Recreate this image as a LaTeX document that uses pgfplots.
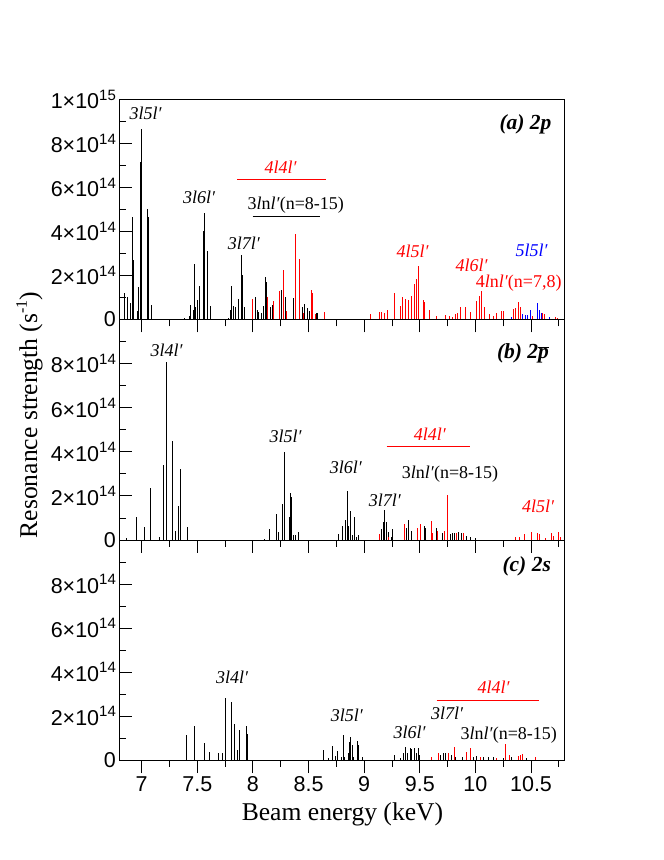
\documentclass[border=0pt]{standalone}
\usepackage{pgfplots}
\pgfplotsset{compat=1.18}
\usepackage{fontspec}
\setmainfont{Liberation Serif}
\setsansfont{Liberation Sans}
\newcommand{\tl}[1]{\mbox{\fontsize{21.5}{21.5}\selectfont\sffamily #1}}
\newcommand{\sci}[2]{#1×10\raisebox{8.5pt}{\fontsize{15}{15}\selectfont #2}}
\pgfplotsset{panel/.style={
  width=445pt, height=220pt, scale only axis,
  xmin=6.8, xmax=10.8, ymin=0, ymax=10,
  xtick={7,7.5,...,10.5}, minor xtick={7.25,7.75,...,10.75},
  minor ytick={1,3,5,7,9},
  xtick pos=left, ytick pos=left,
  xtick align=outside, ytick align=inside,
  major tick length=13pt, minor tick length=7pt,
  axis line style={line width=0.8pt},
  every tick/.style={black, line width=0.8pt},
  scaled ticks=false, clip=true,
  anchor=south west,
},
nolabx/.style={xticklabels={,,,,,,,,}, xticklabel style={text opacity=0}},
bars/.style={ycomb, mark=none, line width=0.7pt, #1},
}
\tikzset{lab/.style={anchor=base, inner sep=0pt, font=\fontsize{18}{18}\selectfont},
  tit/.style={anchor=base, inner sep=0pt, font=\fontsize{21.5}{21.5}\selectfont\bfseries\itshape}}
\begin{document}
\begin{tikzpicture}
\path[use as bounding box] (0pt,0pt) rectangle (664pt,860pt);
% ---------------- panel (a)
\begin{axis}[panel, nolabx, at={(119.4pt,540.5pt)},
  ytick={0,2,4,6,8,10},
  yticklabels={\tl{0},\tl{\sci{2}{14}},\tl{\sci{4}{14}},\tl{\sci{6}{14}},\tl{\sci{8}{14}},\tl{\sci{1}{15}}}]
\addplot[bars=black] table {
6.841 1.21
6.874 1.00
6.900 0.73
6.916 4.64
6.928 2.70
6.964 0.40
6.973 1.48
6.985 7.16
7.000 8.68
7.050 5.00
7.060 4.64
7.090 0.64
7.380 0.08
7.425 0.15
7.434 0.68
7.464 0.45
7.473 2.51
7.485 0.55
7.500 0.90
7.518 1.51
7.554 4.03
7.563 4.85
7.590 3.10
7.614 0.60
7.780 0.05
7.794 0.45
7.810 1.51
7.820 0.60
7.845 0.55
7.869 0.94
7.893 2.95
7.908 2.01
7.925 0.55
8.025 1.00
8.040 0.43
8.052 0.36
8.073 0.28
8.097 0.60
8.112 1.94
8.124 1.71
8.154 0.57
8.178 0.65
8.259 1.33
8.289 1.03
8.363 0.96
8.444 0.57
8.459 0.70
8.489 0.53
8.505 0.40
8.574 0.30
8.583 0.30
};
\addplot[bars=red] table {
7.998 0.91
8.133 1.04
8.184 0.82
8.237 1.30
8.273 2.24
8.300 0.40
8.385 3.88
8.415 2.73
8.450 0.30
8.523 1.33
8.535 1.20
8.560 0.25
8.642 0.33
9.059 0.23
9.137 0.32
9.158 0.35
9.179 0.30
9.212 0.43
9.272 1.21
9.326 0.60
9.344 1.03
9.371 0.95
9.398 0.90
9.425 1.08
9.455 1.60
9.470 1.83
9.488 2.42
9.536 0.90
9.545 0.80
9.587 0.45
9.653 0.18
9.734 0.20
9.764 0.14
9.794 0.12
9.818 0.27
9.838 0.30
9.868 0.59
9.907 0.55
9.952 0.36
10.012 0.86
10.033 1.05
10.051 1.30
10.081 0.55
10.123 0.27
10.162 0.18
10.192 0.30
10.231 0.39
10.252 0.39
10.342 0.48
10.363 0.53
10.387 0.80
10.408 0.58
10.510 0.18
10.606 0.30
10.618 0.27
10.717 0.10
10.740 0.05
};
\addplot[bars=blue] table {
10.327 0.10
10.423 0.27
10.447 0.20
10.471 0.20
10.492 0.45
10.555 0.77
10.576 0.45
10.590 0.30
10.666 0.10
};
\end{axis}
% ---------------- panel (b)
\begin{axis}[panel, nolabx, at={(119.4pt,320pt)}, height=220.5pt,
  ytick={0,2,4,6,8},
  yticklabels={\tl{0},\tl{\sci{2}{14}},\tl{\sci{4}{14}},\tl{\sci{6}{14}},\tl{\sci{8}{14}}}]
\addplot[bars=black] table {
6.865 0.08
6.955 1.03
7.027 0.58
7.081 2.35
7.156 0.15
7.194 3.38
7.225 8.08
7.272 4.50
7.300 0.42
7.329 1.55
7.344 3.21
7.410 0.58
8.100 0.05
8.147 0.48
8.214 1.18
8.229 0.38
8.264 1.64
8.282 3.98
8.327 1.03
8.336 2.12
8.349 1.94
8.363 0.23
8.378 0.23
8.412 0.36
8.772 0.27
8.808 0.64
8.835 0.91
8.846 2.24
8.861 0.64
8.880 1.33
8.894 0.23
8.912 1.03
8.927 0.15
8.948 0.23
9.158 0.52
9.172 0.80
9.182 1.36
9.197 0.82
9.218 0.38
9.242 0.15
9.257 0.52
9.377 0.55
9.393 0.91
9.401 0.52
9.428 0.42
9.540 0.64
9.554 0.55
9.647 0.55
9.707 0.30
9.779 0.27
9.790 0.30
9.809 0.30
9.847 0.38
9.871 0.30
9.923 0.18
9.953 0.15
10.004 0.10
};
\addplot[bars=red] table {
9.137 0.27
9.218 0.15
9.360 0.73
9.474 0.55
9.504 0.73
9.600 0.88
9.611 0.30
9.659 0.42
9.721 0.42
9.747 2.02
9.826 0.30
9.892 0.30
10.357 0.12
10.396 0.15
10.438 0.27
10.507 0.38
10.557 0.33
10.576 0.27
10.627 0.08
10.687 0.33
10.702 0.18
10.747 0.38
10.762 0.15
};
\end{axis}
% ---------------- panel (c)
\begin{axis}[panel, at={(119.4pt,100pt)},
  ytick={0,2,4,6,8},
  yticklabels={\tl{0},\tl{\sci{2}{14}},\tl{\sci{4}{14}},\tl{\sci{6}{14}},\tl{\sci{8}{14}}},
  xticklabels={\tl{7},\tl{7.5},\tl{8},\tl{8.5},\tl{9},\tl{9.5},\tl{10},\tl{10.5}}]
\addplot[bars=black] table {
7.398 1.14
7.476 1.55
7.560 0.79
7.608 0.38
7.689 0.33
7.725 0.30
7.755 2.80
7.806 2.62
7.833 1.64
7.857 0.45
7.878 1.36
7.944 1.55
7.953 1.18
8.633 0.45
8.682 0.08
8.717 0.64
8.741 0.20
8.759 0.39
8.792 0.14
8.813 1.14
8.822 0.15
8.861 0.30
8.867 0.83
8.876 1.03
8.894 0.68
8.903 0.15
8.939 0.86
8.948 0.68
8.981 0.12
9.272 0.23
9.323 0.08
9.353 0.33
9.374 0.58
9.389 0.30
9.413 0.53
9.428 0.48
9.449 0.53
9.467 0.30
9.485 0.53
9.497 0.23
9.683 0.23
9.713 0.33
9.728 0.30
9.782 0.23
9.818 0.15
9.887 0.15
9.983 0.15
10.013 0.18
10.072 0.15
10.117 0.12
10.162 0.15
10.252 0.08
10.327 0.15
10.462 0.08
};
\addplot[bars=red] table {
9.600 0.12
9.668 0.30
9.758 0.33
9.809 0.61
9.923 0.38
9.953 0.53
10.042 0.12
10.192 0.08
10.270 0.71
10.306 0.23
10.387 0.18
10.408 0.23
10.426 0.27
10.537 0.12
};
\end{axis}
% ---------------- axis titles
\node[rotate=90, anchor=base, inner sep=0pt, font=\fontsize{25.6}{25.6}\selectfont] at (37pt,445pt)
  {Resonance strength (s\raisebox{10pt}{\fontsize{16}{16}\selectfont -1})};
\node[anchor=base, inner sep=0pt, font=\fontsize{25.6}{25.6}\selectfont] at (342.5pt,39.3pt) {Beam energy (keV)};
% ---------------- annotations (a)
\node[lab] at (145.7pt,740.7pt) {\textit{3l5l′}};
\node[lab] at (199.3pt,656pt) {\textit{3l6l′}};
\node[lab, red] at (280.7pt,686pt) {\textit{4l4l′}};
\draw[red, line width=0.8pt] (237.3pt,680.3pt) -- (325.7pt,680.3pt);
\node[lab] at (295.8pt,650pt) {3\textit{l}n\textit{l′}(n=8-15)};
\draw[black, line width=0.8pt] (252.7pt,643.3pt) -- (320pt,643.3pt);
\node[lab] at (244pt,610.7pt) {\textit{3l7l′}};
\node[lab, red] at (412.7pt,602.7pt) {\textit{4l5l′}};
\node[lab, red] at (471.7pt,588.3pt) {\textit{4l6l′}};
\node[lab, red] at (518.7pt,572.7pt) {4\textit{l}n\textit{l′}(n=7,8)};
\node[lab, blue] at (531.7pt,603.3pt) {\textit{5l5l′}};
\node[tit] at (525.5pt,730.7pt) {(a) 2p};
% ---------------- annotations (b)
\node[lab] at (166.7pt,503.3pt) {\textit{3l4l′}};
\node[lab] at (285.7pt,417.7pt) {\textit{3l5l′}};
\node[lab] at (346pt,386.7pt) {\textit{3l6l′}};
\node[lab, red] at (430pt,419.3pt) {\textit{4l4l′}};
\draw[red, line width=0.8pt] (386.7pt,414pt) -- (470pt,414pt);
\node[lab] at (450pt,381.7pt) {3\textit{l}n\textit{l′}(n=8-15)};
\node[lab] at (385pt,353.3pt) {\textit{3l7l′}};
\node[lab, red] at (538.3pt,347.7pt) {\textit{4l5l′}};
\node[tit] at (523pt,501.7pt) {(b) 2$\overline{\mbox{\bfseries\itshape p}}$};
% ---------------- annotations (c)
\node[lab] at (232.3pt,176pt) {\textit{3l4l′}};
\node[lab] at (347pt,138.3pt) {\textit{3l5l′}};
\node[lab] at (409.7pt,121.7pt) {\textit{3l6l′}};
\node[lab] at (447.3pt,140pt) {\textit{3l7l′}};
\node[lab, red] at (493.7pt,166.7pt) {\textit{4l4l′}};
\draw[red, line width=0.8pt] (436.7pt,159.3pt) -- (539pt,159.3pt);
\node[lab] at (508.8pt,120pt) {3\textit{l}n\textit{l′}(n=8-15)};
\node[tit] at (526.7pt,288.3pt) {(c) 2s};
\end{tikzpicture}
\end{document}
